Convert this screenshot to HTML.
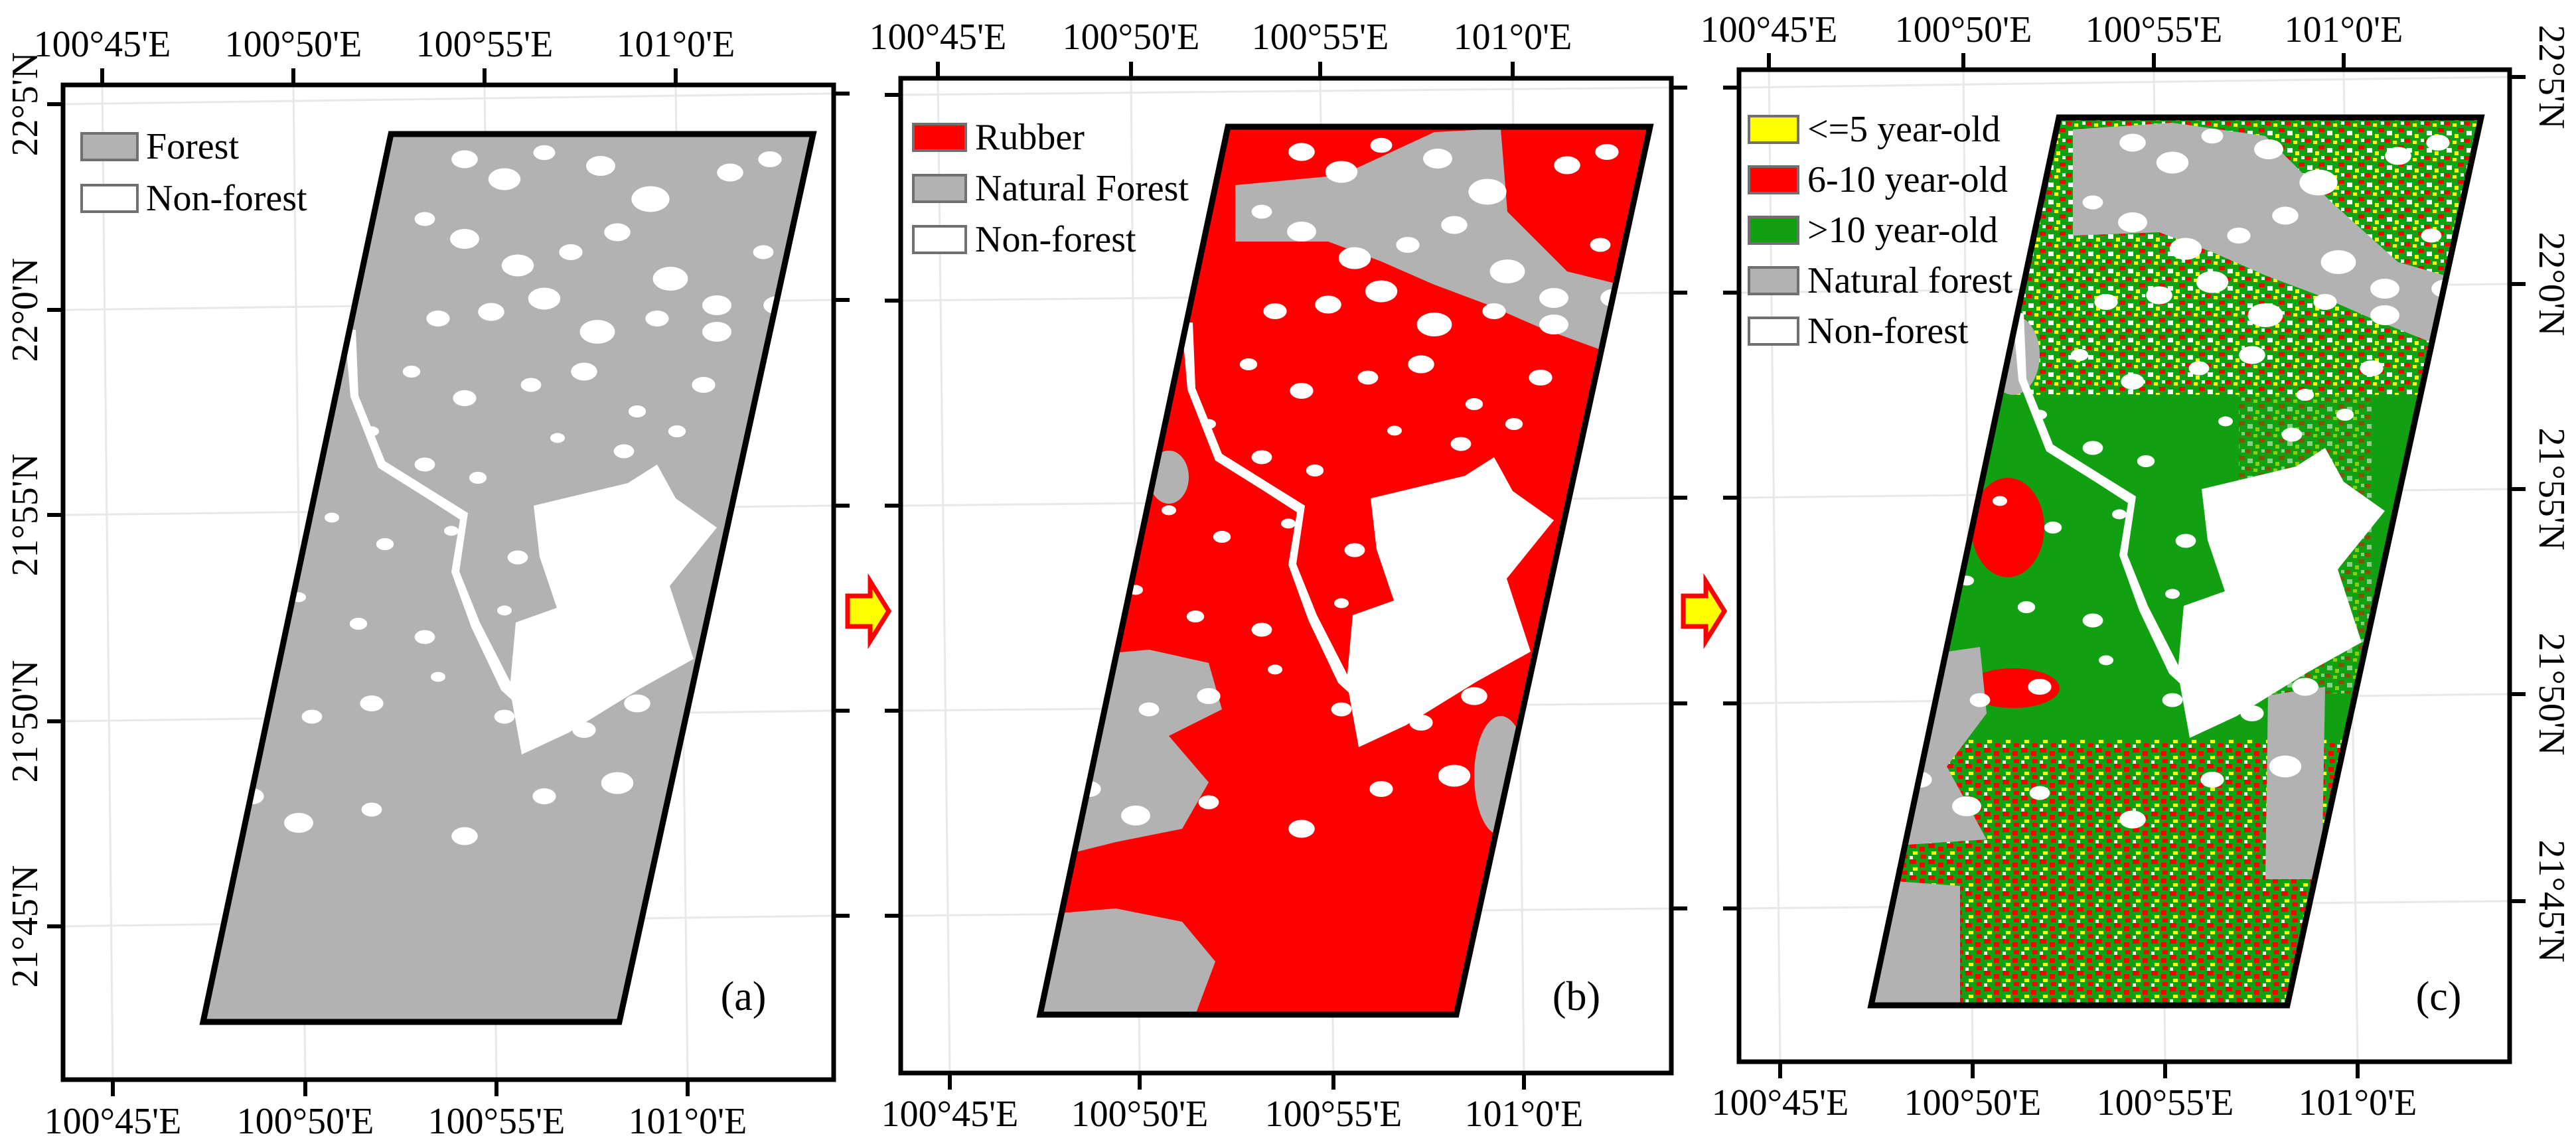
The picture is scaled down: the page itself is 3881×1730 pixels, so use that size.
<!DOCTYPE html>
<html><head><meta charset="utf-8"><style>
html,body{margin:0;padding:0;background:#fff}
svg{display:block}
svg text{font-family:"Liberation Serif","Times New Roman",serif;fill:#000}
</style></head><body>
<svg id="fig" width="3881" height="1730" viewBox="0 0 3881 1730" xmlns="http://www.w3.org/2000/svg" font-family="Liberation Serif, serif">
<defs>
<pattern id="mixTop" width="30" height="26" patternUnits="userSpaceOnUse">
<rect width="30" height="26" fill="#11a011"/>
<rect x="0" y="0" width="8" height="6" fill="#ff0000"/>
<rect x="12" y="3" width="6" height="5" fill="#ffff00"/>
<rect x="20" y="10" width="9" height="6" fill="#ff0000"/>
<rect x="3" y="14" width="8" height="7" fill="#ffffff"/>
<rect x="15" y="19" width="6" height="6" fill="#ffff00"/>
<rect x="24" y="0" width="5" height="5" fill="#ffffff"/>
</pattern>
<pattern id="mixBot" width="28" height="24" patternUnits="userSpaceOnUse">
<rect width="28" height="24" fill="#11a011"/>
<rect x="0" y="0" width="10" height="7" fill="#ff0000"/>
<rect x="15" y="5" width="8" height="7" fill="#ff0000"/>
<rect x="5" y="12" width="7" height="5" fill="#ffff00"/>
<rect x="17" y="17" width="8" height="6" fill="#ff0000"/>
<rect x="0" y="19" width="5" height="5" fill="#ffffff"/>
</pattern>
</defs>
<g id="root"></g>
</svg>
<script>
const NS='http://www.w3.org/2000/svg';
const root=document.getElementById('root');
const SERIF='"Liberation Serif", serif';
function mk(tag,attrs,parent){const e=document.createElementNS(NS,tag);for(const k in attrs)e.setAttribute(k,attrs[k]);if(tag==='text')e.setAttribute('font-family',SERIF);(parent||root).appendChild(e);return e;}

// axis tick labels
const lonLabels=["100°45'E","100°50'E","100°55'E","101°0'E"];
const latLabels=["22°5'N","22°0'N","21°55'N","21°50'N","21°45'N"];

const panels=[
 {id:'a',frame:[95,128,1256,1627],top:[154,442,730,1018],bot:[170,460,748,1036],left:[157,467,776,1087,1396],right:[141,452,762,1071,1380],
  topY:66,botY:1689,dx:0,dy:0,leftLabels:true,rightLabels:false,tag:'(a)',tagX:1120},
 {id:'b',frame:[1357,118,2518,1617],top:[1413,1704,1989,2279],bot:[1431,1717,2009,2296],left:[143,453,762,1071,1380],right:[132,441,750,1060,1369],
  topY:55,botY:1678,dx:1261,dy:-11,leftLabels:false,rightLabels:false,tag:'(b)',tagX:2375},
 {id:'c',frame:[2620,105,3781,1600],top:[2665,2958,3245,3531],bot:[2682,2972,3262,3552],left:[132,441,750,1060,1369],right:[116,428,737,1046,1358],
  topY:44,botY:1661,dx:2513,dy:-25,leftLabels:false,rightLabels:true,tag:'(c)',tagX:3674}
];

const quad="589,202 1225,202 933,1540 306,1540";

const blobX=[700,760,820,905,980,1100,1160,640,700,780,860,930,1010,1080,1150,660,740,820,900,990,1080,1170,620,700,800,880,960,1060,560,640,720,840,940,1020,500,580,680,780,880,980,450,540,640,760,860,960,400,470,560,660,760,880,960,380,450,560,700,820,930];
const blobY=[240,270,230,250,300,260,240,330,360,400,380,350,420,460,380,480,470,450,500,480,500,460,560,600,580,560,620,580,650,700,720,660,680,650,780,820,800,840,770,860,900,940,960,920,980,900,1040,1080,1060,1020,1080,1100,1060,1200,1240,1220,1260,1200,1180];
const blobR=[18,22,15,20,26,18,16,14,20,22,16,18,24,20,14,16,18,22,24,16,20,18,12,16,14,18,12,16,10,14,12,10,14,12,10,12,10,14,16,12,10,12,14,10,12,16,12,14,16,10,14,16,18,16,20,14,18,16,22];

function parallelClip(id){const cp=mk('clipPath',{id:'clip'+id},document.querySelector('defs'));mk('polygon',{points:quad},cp);}

const arrowsX=[1277,2536];
panels.forEach(p=>{
 parallelClip(p.id);
 const g=mk('g',{});
 
 
 const [x0,y0,x1,y1]=p.frame;
 p.top.forEach((x,i)=>{const l=mk('line',{x1:x,y1:y0,x2:p.bot[i],y2:y1,stroke:'#e8e8e8','stroke-width':3},g);});
 p.left.forEach((y,i)=>{const l=mk('line',{x1:x0,y1:y,x2:x1,y2:p.right[i],stroke:'#e8e8e8','stroke-width':3},g);});
 const m=mk('g',{transform:`translate(${p.dx},${p.dy})`},g);
 
 
 const c=mk('g',{'clip-path':`url(#clip${p.id})`},m);
 if(p.id==='a'){
  mk('polygon',{points:quad,fill:'#b2b2b2'},c);
 } else if(p.id==='b'){
  mk('polygon',{points:quad,fill:'#ff0000'},c);
  mk('path',{d:'M600,290 L760,275 L900,210 L1000,205 L1010,330 L1100,420 L1180,440 L1170,545 L1060,505 L980,470 L900,440 L820,405 L740,375 L600,375Z',fill:'#b2b2b2'},c);
  mk('path',{d:'M360,1000 L470,990 L560,1010 L580,1080 L500,1120 L560,1190 L520,1260 L420,1280 L340,1300Z',fill:'#b2b2b2'},c);
  mk('path',{d:'M300,1390 L420,1380 L520,1400 L570,1460 L540,1540 L300,1540Z',fill:'#b2b2b2'},c);
  mk('ellipse',{cx:500,cy:730,rx:30,ry:40,fill:'#b2b2b2'},c);
  mk('ellipse',{cx:1000,cy:1180,rx:40,ry:90,fill:'#b2b2b2'},c);
 } else {
  mk('polygon',{points:quad,fill:'#11a011'},c);
  mk('rect',{x:300,y:200,width:950,height:420,fill:'url(#mixTop)'},c);
  mk('rect',{x:300,y:1140,width:950,height:400,fill:'url(#mixBot)'},c);
  mk('rect',{x:860,y:620,width:200,height:450,fill:'url(#mixTop)',opacity:0.5},c);
  mk('ellipse',{cx:512,cy:820,rx:55,ry:75,fill:'#ff0000'},c);
  mk('ellipse',{cx:520,cy:1062,rx:70,ry:30,fill:'#ff0000'},c);
  mk('path',{d:'M610,220 L760,210 L900,230 L1000,330 L1100,420 L1170,440 L1160,545 L1060,505 L980,470 L900,440 L820,405 L740,375 L610,380Z',fill:'#b2b2b2'},c);
  mk('path',{d:'M330,1020 L470,1000 L480,1100 L420,1180 L480,1290 L330,1300Z',fill:'#b2b2b2'},c);
  mk('path',{d:'M300,1350 L440,1360 L440,1540 L300,1540Z',fill:'#b2b2b2'},c);
  mk('path',{d:'M904,1073 L990,1060 L985,1350 L900,1350Z',fill:'#b2b2b2'},c);
  mk('ellipse',{cx:520,cy:560,rx:40,ry:60,fill:'#b2b2b2'},c);
 }
 const w=mk('g',{fill:'#ffffff'},c);
 
 
 blobX.forEach((x,i)=>{mk('ellipse',{cx:x,cy:blobY[i],rx:blobR[i]*1.1,ry:blobR[i]*0.75,fill:'#fff'},w);});
 mk('path',{d:'M804,762 L946,728 L990,700 L1018,751 L1080,795 L1009,883 L1045,993 L964,1038 L857,1104 L786,1137 L768,1038 L777,938 L839,916 L813,839Z',fill:'#fff'},w);
 mk('path',{d:'M520,497 L536,497 L540,596 L580,695 L652,740 L705,773 L692,861 L723,938 L768,1026 L800,1060 L790,1072 L755,1040 L710,945 L680,862 L693,783 L645,752 L570,705 L528,598 L520,505Z',fill:'#fff'},w);
 mk('polygon',{points:quad,fill:'none',stroke:'#000','stroke-width':9,'stroke-linejoin':'miter'},m);
 const fr=mk('rect',{x:x0,y:y0,width:x1-x0,height:y1-y0,fill:'none',stroke:'#000','stroke-width':7},g);
 
 
 p.top.forEach((x,i)=>{mk('line',{x1:x,y1:y0-25,x2:x,y2:y0,stroke:'#000','stroke-width':6},g);
  const t=mk('text',{x:x,y:p.topY+19,'font-size':56,'text-anchor':'middle'},g);t.textContent=lonLabels[i];
  });
 p.bot.forEach((x,i)=>{mk('line',{x1:x,y1:y1,x2:x,y2:y1+25,stroke:'#000','stroke-width':6},g);
  const t=mk('text',{x:x,y:p.botY+19,'font-size':56,'text-anchor':'middle'},g);t.textContent=lonLabels[i];
  });
 p.left.forEach((y,i)=>{mk('line',{x1:x0-24,y1:y,x2:x0,y2:y,stroke:'#000','stroke-width':6},g);
  if(p.leftLabels){const t=mk('text',{x:0,y:0,'font-size':56,'text-anchor':'middle',transform:`translate(56,${y}) rotate(-90)`},g);t.textContent=latLabels[i];
   }});
 p.right.forEach((y,i)=>{mk('line',{x1:x1,y1:y,x2:x1+24,y2:y,stroke:'#000','stroke-width':6},g);
  if(p.rightLabels){const t=mk('text',{x:0,y:0,'font-size':56,'text-anchor':'middle',transform:`translate(3826,${y}) rotate(90)`},g);t.textContent=latLabels[i];
   }});
 const tg=mk('text',{x:p.tagX,y:1522,'font-size':62,'text-anchor':'middle'},g);tg.textContent=p.tag;
 
});

const legA=[['Forest','#b2b2b2'],['Non-forest','#ffffff']];
const legB=[['Rubber','#ff0000'],['Natural Forest','#b2b2b2'],['Non-forest','#ffffff']];
const legC=[['<=5 year-old','#ffff00'],['6-10 year-old','#ff0000'],['>10 year-old','#11a011'],['Natural forest','#b2b2b2'],['Non-forest','#ffffff']];
function legend(items,bx,y0,step,bw,tx){
 const g=mk('g',{});
 
 
 items.forEach((it,i)=>{const cy=y0+i*step;
  const r=mk('rect',{x:bx,y:cy-20,width:bw,height:40,fill:it[1],stroke:'#707070','stroke-width':4},g);
  
  const t=mk('text',{x:tx,y:cy+18,'font-size':56},g);t.textContent=it[0];
  });
}
legend(legA,123,221,78,84,220);
legend(legB,1376,207,77,79,1469);
legend(legC,2635,195,76,74,2723);

arrowsX.forEach(x=>{const a=mk('polygon',{points:`${x},898 ${x+34},898 ${x+34},876 ${x+62},921 ${x+34},966 ${x+34},944 ${x},944`,fill:'#ffff00',stroke:'#ff0000','stroke-width':7});
 });
</script>
</body></html>
